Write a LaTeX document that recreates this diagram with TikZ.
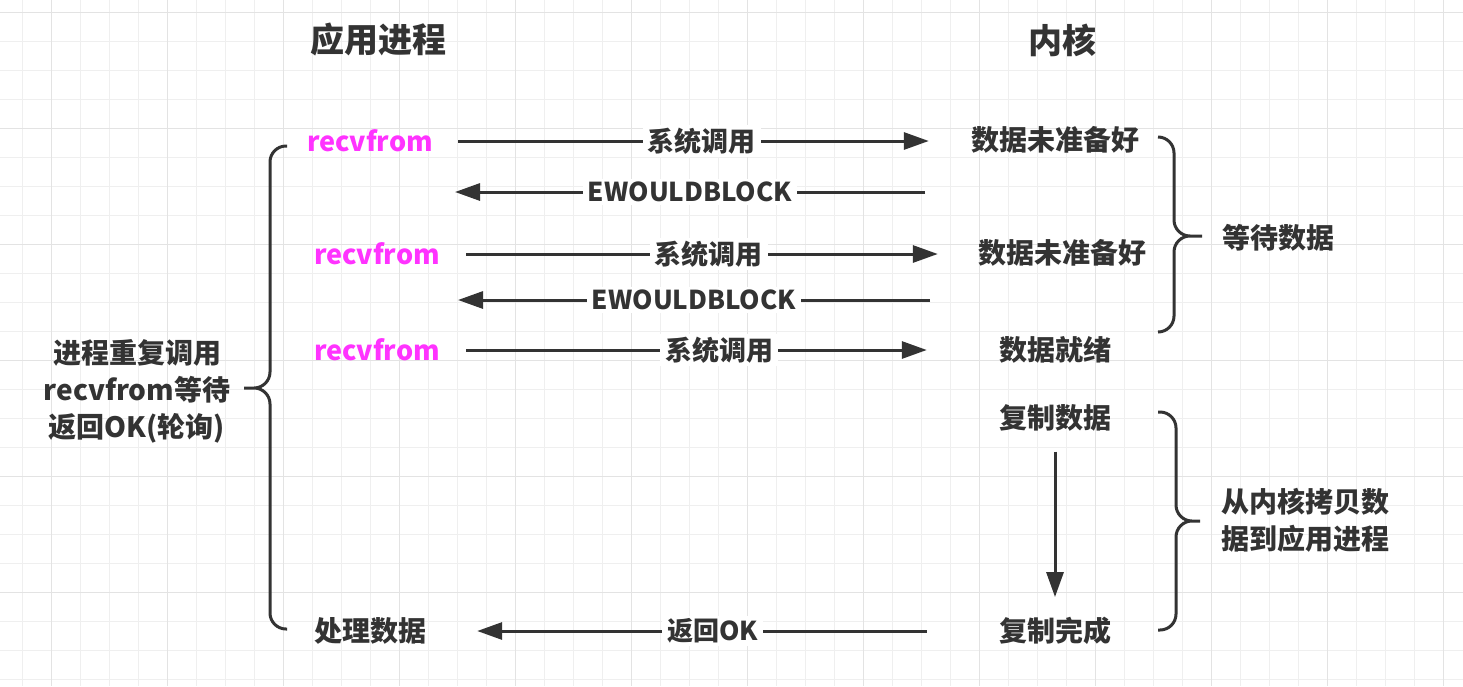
\documentclass[tikz,border=0pt]{standalone}
\usepackage{fontspec}
\setmainfont{Noto Sans CJK SC}
\usetikzlibrary{arrows.meta, positioning}
\definecolor{ink}{HTML}{333333}
\definecolor{recvpink}{HTML}{FF33FF}
\definecolor{gridminor}{HTML}{EFEFEF}
\definecolor{gridmajor}{HTML}{E3E3E3}

\begin{document}
\begin{tikzpicture}[x=1pt, y=-1pt,
    every node/.style={text=ink, inner sep=0pt, font=\fontsize{28}{37}\selectfont\bfseries},
    title/.style={font=\fontsize{34}{40}\selectfont\bfseries},
    recvtext/.style={text=recvpink, font=\fontsize{27}{32}\selectfont\bfseries},
    msg/.style={fill=white, inner xsep=5pt, inner ysep=3pt, font=\fontsize{27}{30}\selectfont\bfseries},
    msglatin/.style={msg, font=\fontsize{26}{30}\selectfont\bfseries},
    flow/.style={draw=ink, line width=3pt, -{Triangle[length=25pt,width=17pt]}},
    curly/.style={draw=ink, line width=3pt, rounded corners=16pt}]
  \useasboundingbox[fill=white] (0,0) rectangle (1463,686);
  % grid
  \foreach \i in {0,...,49}
    \draw[gridminor, line width=1pt] ({22.3+29*\i},0) -- ({22.3+29*\i},686);
  \foreach \j in {0,...,23}
    \draw[gridminor, line width=1pt] (0,{12.3+29*\j}) -- (1463,{12.3+29*\j});
  \foreach \i in {0,...,12}
    \draw[gridmajor, line width=1.2pt] ({51.3+116*\i},0) -- ({51.3+116*\i},686);
  \foreach \j in {0,...,5}
    \draw[gridmajor, line width=1.2pt] (0,{12.3+116*\j}) -- (1463,{12.3+116*\j});

  % titles
  \node[title] (app) at (378,40) {应用进程};
  \node[title] (kern) at (1062,40) {内核};

  % process side
  \node[recvtext] (rf1) at (370,141) {recvfrom};
  \node[recvtext] (rf2) at (377,254) {recvfrom};
  \node[recvtext] (rf3) at (377,350) {recvfrom};
  \node (done) at (370,631) {处理数据};

  % kernel side
  \node (k1) at (1055,140) {数据未准备好};
  \node (k2) at (1062,253) {数据未准备好};
  \node (k3) at (1055,350) {数据就绪};
  \node (k4) at (1055,418) {复制数据};
  \node (k5) at (1055,631) {复制完成};

  % notes
  \node[align=center] (poll) at (137,391) {进程重复调用\\recvfrom等待\\返回OK(轮询)};
  \node (wait) at (1278,238) {等待数据};
  \node[align=center] (copy) at (1305,520) {从内核拷贝数\\据到应用进程};

  \coordinate (e1a) at (925,192);
  \coordinate (e1b) at (455,192);
  \coordinate (e2a) at (930,300);
  \coordinate (e2b) at (458,300);

  % calls and replies
  \draw[flow, shorten <=25pt, shorten >=42pt] (rf1.east) -- (rf1.east -| k1.west)
    node[msg, midway] {系统调用};
  \draw[flow] (e1a) -- (e1b) node[msglatin, midway] {EWOULDBLOCK};
  \draw[flow, shorten <=26pt, shorten >=40pt] (rf2.east) -- (rf2.east -| k2.west)
    node[msg, midway] {系统调用};
  \draw[flow] (e2a) -- (e2b) node[msglatin, midway] {EWOULDBLOCK};
  \draw[flow, shorten <=26pt, shorten >=72pt] (rf3.east) -- (rf3.east -| k3.west)
    node[msg, midway] {系统调用};
  \draw[flow, shorten <=20pt, shorten >=20pt] (k4) -- (k5);
  \draw[flow, shorten <=72pt, shorten >=51pt] (k5.west) -- (k5.west -| done.east)
    node[msglatin, midway] {返回OK};

  % braces
  \draw[curly] (287,146) -- (270,146) -- (270,388) -- (244,388)
    (244,388) -- (270,388) -- (270,629) -- (287,629);
  \draw[curly] (1158,137) -- (1174,137) -- (1174,236) -- (1202,236)
    (1202,236) -- (1174,236) -- (1174,332) -- (1158,332);
  \draw[curly] (1158,412) -- (1176,412) -- (1176,521) -- (1200,521)
    (1200,521) -- (1176,521) -- (1176,630) -- (1158,630);
\end{tikzpicture}
\end{document}
